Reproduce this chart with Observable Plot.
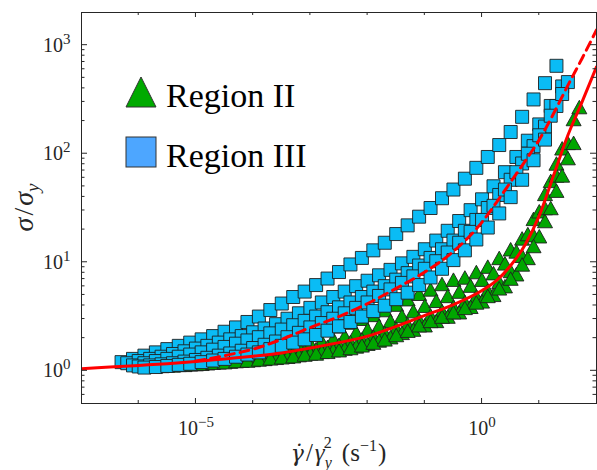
<!DOCTYPE html>
<html><head><meta charset="utf-8">
<script src="https://cdn.jsdelivr.net/npm/d3@7"></script>
<script src="https://cdn.jsdelivr.net/npm/@observablehq/plot@0.6"></script>
<style>body{margin:0;background:#fff;} #chart svg{display:block;}</style>
</head><body><div id="chart"></div>
<script>
// ---------- DATA (log10 values) ----------
// x grids: log10 of shear-rate / gamma_y^2
const gridA = [-6.3,-6.1,-5.9,-5.7,-5.5,-5.3,-5.1,-4.9,-4.7,-4.5,-4.3,-4.1,-3.9,-3.7,-3.5,-3.3,-3.1,-2.9,-2.7,-2.5,-2.3,-2.1,-1.9,-1.7,-1.5,-1.3,-1.1,-0.9,-0.7,-0.5,-0.3,-0.1,0.1,0.3,0.5,0.7,0.9,1.1,1.3,1.5,1.7];
const gridB = [-6.2,-6.0,-5.8,-5.6,-5.4,-5.2,-5.0,-4.8,-4.6,-4.4,-4.2,-4.0,-3.8,-3.6,-3.4,-3.2,-3.0,-2.8,-2.6,-2.4,-2.2,-2.0,-1.8,-1.6,-1.4,-1.2,-1.0,-0.8,-0.6,-0.4,-0.2,0.0,0.2,0.4,0.6,0.8,1.0,1.2,1.4,1.6];

// Region III (squares): log10(sigma/sigma_y)
const sq1 = [0.08,0.11,0.14,0.17,0.20,0.23,0.26,0.29,0.32,0.36,0.40,0.45,0.50,0.56,0.62,0.68,0.73,0.79,0.85,0.91,0.98,1.04,1.11,1.18,1.26,1.34,1.42,1.50,1.59,1.67,1.77,1.87,1.97,2.08,2.20,2.34,2.50,2.65,2.81];
const sq2 = [0.07,0.09,0.11,0.13,0.155,0.18,0.205,0.23,0.26,0.29,0.32,0.355,0.39,0.43,0.48,0.53,0.58,0.63,0.68,0.73,0.78,0.83,0.88,0.93,0.99,1.05,1.12,1.20,1.29,1.38,1.48,1.58,1.70,1.83,1.97,2.12,2.27,2.44,2.62];
const sq3 = [0.05,0.07,0.09,0.11,0.13,0.15,0.17,0.195,0.22,0.25,0.28,0.31,0.345,0.38,0.42,0.46,0.50,0.54,0.585,0.63,0.68,0.73,0.78,0.84,0.90,0.97,1.04,1.12,1.20,1.29,1.39,1.50,1.62,1.76,1.91,2.07,2.25,2.44,2.66];
const sq4 = [0.04,0.05,0.06,0.07,0.085,0.10,0.12,0.14,0.16,0.185,0.21,0.24,0.27,0.31,0.35,0.40,0.44,0.48,0.53,0.58,0.63,0.69,0.75,0.81,0.87,0.94,1.01,1.09,1.18,1.28,1.39,1.52,1.67,1.83,2.00,2.17,2.35,2.55];
const sq5 = [0.03,0.035,0.045,0.055,0.065,0.08,0.095,0.11,0.13,0.15,0.17,0.20,0.23,0.26,0.29,0.33,0.37,0.41,0.45,0.50,0.55,0.60,0.66,0.72,0.79,0.86,0.94,1.02,1.11,1.21,1.32,1.45,1.60,1.76,1.94,2.13];

// Region II (triangles): log10(sigma/sigma_y)
const tr1 = [0.32,0.35,0.38,0.41,0.445,0.48,0.515,0.56,0.61,0.66,0.71,0.75,0.80,0.84,0.86,0.91,0.96,1.04,1.12,1.22,1.40,1.63,1.91];
const tr2 = [0.155,0.17,0.185,0.20,0.22,0.25,0.27,0.295,0.32,0.355,0.38,0.415,0.46,0.505,0.55,0.60,0.645,0.69,0.73,0.785,0.84,0.90,0.99,1.10,1.26,1.47,1.75,2.05,2.32];
const tr3 = [0.07,0.08,0.09,0.10,0.11,0.12,0.13,0.14,0.15,0.165,0.18,0.20,0.22,0.24,0.265,0.29,0.315,0.35,0.39,0.43,0.47,0.51,0.55,0.59,0.635,0.685,0.74,0.82,0.92,1.06,1.25,1.50,1.80,2.10,2.43];
const tr4 = [0.045,0.05,0.055,0.062,0.07,0.078,0.085,0.093,0.10,0.11,0.12,0.13,0.145,0.16,0.175,0.19,0.205,0.225,0.25,0.28,0.31,0.35,0.38,0.42,0.46,0.50,0.54,0.59,0.64,0.70,0.78,0.89,1.04,1.24,1.50,1.80,2.10];
const tr5 = [0.045,0.05,0.055,0.06,0.065,0.075,0.08,0.09,0.095,0.105,0.115,0.125,0.135,0.15,0.16,0.175,0.19,0.21,0.235,0.26,0.29,0.33,0.37,0.42,0.46,0.50,0.54,0.58,0.63,0.69,0.76,0.85,0.98,1.15,1.38,1.66,1.96];

// model curves (log10 x, log10 y)
const solidLogX = [-7,-6.5,-6,-5.5,-5,-4.5,-4,-3.5,-3,-2.5,-2,-1.5,-1,-0.5,0,0.25,0.5,0.75,1,1.25,1.5,1.75,2];
const solidLogY = [0.02,0.035,0.05,0.065,0.085,0.11,0.135,0.165,0.21,0.26,0.32,0.41,0.51,0.61,0.74,0.83,0.97,1.16,1.43,1.80,2.17,2.48,2.80];
const dashLogX = [-5,-4.5,-4,-3.5,-3,-2.5,-2,-1.5,-1,-0.5,0,0.25,0.5,0.75,1,1.25,1.5,1.75,2];
const dashLogY = [0.09,0.14,0.20,0.29,0.40,0.50,0.62,0.76,0.91,1.10,1.37,1.55,1.74,1.93,2.13,2.37,2.63,2.88,3.14];

// ticks
const xDomain = [1e-7, 1e2];
const yDomain = [0.5, 2000];
const xLabelTicks = [1e-5, 1];
const xAllTicks = [1e-6,1e-5,1e-4,1e-3,1e-2,1e-1,1,10];
const yMajor = [1, 10, 100, 1000];
const yMinor = [0.6,0.7,0.8,0.9,2,3,4,5,6,7,8,9,20,30,40,50,60,70,80,90,200,300,400,500,600,700,800,900];
const legendLabels = ["Region II", "Region III"];

// ---------- BUILD ----------
const W = 597, H = 470;
const M = {left: 81, right: 1, top: 12, bottom: 67};
const serif = "'Liberation Serif', 'Times New Roman', serif";
const axisColor = "#262626";
const blue = "#0ABCF5", green = "#00A600", red = "#FF0000", edge = "#1f1f1f";

function rows(grid, i0, logY) { return logY.map((v, i) => ({x: 10 ** grid[i0 + i], y: 10 ** v})); }
const squares = [
  ...rows(gridA, 0, sq1), ...rows(gridB, 0, sq2), ...rows(gridA, 1, sq3),
  ...rows(gridB, 1, sq4), ...rows(gridA, 2, sq5)
];
const triangles = [
  ...rows(gridA, 16, tr1), ...rows(gridB, 11, tr2), ...rows(gridA, 6, tr3),
  ...rows(gridB, 3, tr4), ...rows(gridA, 3, tr5)
];
const solid = solidLogX.map((v, i) => ({x: 10 ** v, y: 10 ** solidLogY[i]}));
const dashed = dashLogX.map((v, i) => ({x: 10 ** v, y: 10 ** dashLogY[i]}));

const triSym = {draw(ctx, size) { const r = Math.sqrt(size / Math.PI); const h = r * 0.9;
  ctx.moveTo(0, -h); ctx.lineTo(r, h); ctx.lineTo(-r, h); ctx.closePath(); }};
const sqSym = {draw(ctx, size) { const r = Math.sqrt(size / Math.PI);
  ctx.rect(-r, -r, 2 * r, 2 * r); }};

const fmt = d => "10^" + Math.round(Math.log10(d));

const plot = Plot.plot({
  width: W, height: H,
  marginLeft: M.left, marginRight: M.right, marginTop: M.top, marginBottom: M.bottom,
  x: {type: "log", domain: xDomain},
  y: {type: "log", domain: yDomain},
  style: {fontFamily: serif, color: axisColor, background: "white", overflow: "visible"},
  marks: [
    Plot.dot(triangles, {x: "x", y: "y", r: 7.5, symbol: triSym, fill: green, stroke: edge, strokeWidth: 0.9}),
    Plot.dot(squares, {x: "x", y: "y", r: 6.5, symbol: sqSym, fill: blue, stroke: edge, strokeWidth: 0.9}),
    Plot.line(solid, {x: "x", y: "y", stroke: red, strokeWidth: 3, curve: "monotone-x", clip: true}),
    Plot.line(dashed, {x: "x", y: "y", stroke: red, strokeWidth: 3, strokeDasharray: "9,6", curve: "monotone-x", clip: true}),
    Plot.frame({stroke: axisColor, strokeWidth: 1}),
    Plot.axisY(yMajor, {tickSize: 0, tickPadding: 11, tickFormat: fmt, fontSize: 20, label: null}),
    Plot.axisX(xLabelTicks, {tickSize: 0, tickPadding: 17, tickFormat: fmt, fontSize: 20, label: null})
  ]
});

const svg = d3.select(plot);
// superscript exponents in tick labels
svg.selectAll("text").each(function() {
  const m = /^10\^(-?\d+)$/.exec(this.textContent);
  if (!m) return;
  const t = d3.select(this);
  t.attr("font-size", 20).attr("fill", axisColor).text("10");
  t.append("tspan").attr("dy", "-8").attr("font-size", "15").text(m[1].replace("-", "\u2212"));
});

// inward ticks on all four sides, positioned through Plot's scales
const xs = plot.scale("x"), ys = plot.scale("y");
const L = M.left, R = W - M.right, T = M.top, B = H - M.bottom;
const tg = svg.append("g").attr("stroke", axisColor).attr("stroke-width", 1).attr("fill", "none");
function seg(x1, y1, x2, y2) { tg.append("line").attr("x1", x1).attr("y1", y1).attr("x2", x2).attr("y2", y2); }
for (const v of yMajor) { const y = ys.apply(v); seg(L, y, L + 6, y); seg(R, y, R - 6, y); }
for (const v of yMinor) { const y = ys.apply(v); seg(L, y, L + 3.5, y); seg(R, y, R - 3.5, y); }
for (const v of xAllTicks) {
  const x = xs.apply(v); const len = xLabelTicks.includes(v) ? 5 : 3;
  seg(x, B, x, B - len); seg(x, T, x, T + len);
}

// axis titles
const cx = (L + R) / 2;
const xt = svg.append("text").attr("x", cx).attr("y", 461).attr("text-anchor", "middle")
  .attr("font-family", serif).attr("font-size", 25).attr("fill", axisColor);
xt.append("tspan").attr("font-style", "italic").attr("font-family", "'DejaVu Serif', serif").attr("font-size", 22).text("\u03B3\u0307");
xt.append("tspan").attr("dx", 2).text("/");
xt.append("tspan").attr("font-style", "italic").attr("dx", 2).text("\u03B3");
xt.append("tspan").attr("font-style", "italic").attr("font-size", 16).attr("dy", 7).text("y");
xt.append("tspan").attr("font-size", 16).attr("dx", -8).attr("dy", -20).text("2");
xt.append("tspan").attr("dy", 13).attr("dx", 10).text("(s");
xt.append("tspan").attr("font-size", 16).attr("dy", -10).text("\u22121");
xt.append("tspan").attr("dy", 10).attr("dx", 1).text(")");

const yt = svg.append("text").attr("transform", `translate(33,${(T + B) / 2}) rotate(-90)`)
  .attr("text-anchor", "middle").attr("font-family", serif).attr("font-size", 28).attr("fill", axisColor);
yt.append("tspan").attr("font-style", "italic").text("\u03C3");
yt.append("tspan").attr("dx", 2).text("/");
yt.append("tspan").attr("font-style", "italic").attr("dx", 2).text("\u03C3");
yt.append("tspan").attr("font-style", "italic").attr("font-size", 19).attr("dy", 6).text("y");

// legend
const lg = svg.append("g").attr("text-anchor", "start");
lg.append("path").attr("d", "M141,77L156,107L126,107Z").attr("fill", "#00AA00").attr("stroke", "#333").attr("stroke-width", 1);
lg.append("rect").attr("x", 126).attr("y", 137).attr("width", 30).attr("height", 30).attr("fill", "#4DA6FF").attr("stroke", "#333").attr("stroke-width", 1);
lg.append("text").attr("x", 166).attr("y", 107).attr("text-anchor", "start").attr("font-family", serif).attr("font-size", 34).attr("fill", "#000").text(legendLabels[0]);
lg.append("text").attr("x", 166).attr("y", 167).attr("text-anchor", "start").attr("font-family", serif).attr("font-size", 34).attr("fill", "#000").text(legendLabels[1]);

document.getElementById("chart").appendChild(plot);
</script></body></html>
